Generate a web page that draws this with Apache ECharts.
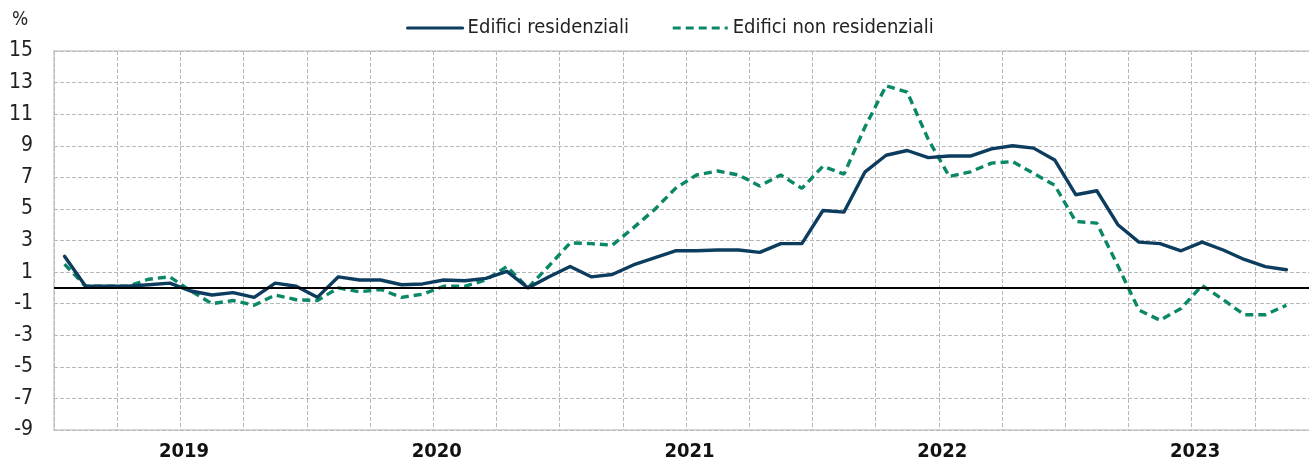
<!DOCTYPE html>
<html>
<head>
<meta charset="utf-8">
<script src="https://cdn.jsdelivr.net/npm/echarts@6/dist/echarts.min.js"></script>
<style>
html,body{margin:0;padding:0;background:#fff;overflow:hidden;width:1309px;height:465px;}
#c{width:1320px;height:465px;}
</style>
</head>
<body>
<div id="c"></div>
<script>
const months = [
 '2018-07','2018-08','2018-09','2018-10','2018-11','2018-12',
 '2019-01','2019-02','2019-03','2019-04','2019-05','2019-06','2019-07','2019-08','2019-09','2019-10','2019-11','2019-12',
 '2020-01','2020-02','2020-03','2020-04','2020-05','2020-06','2020-07','2020-08','2020-09','2020-10','2020-11','2020-12',
 '2021-01','2021-02','2021-03','2021-04','2021-05','2021-06','2021-07','2021-08','2021-09','2021-10','2021-11','2021-12',
 '2022-01','2022-02','2022-03','2022-04','2022-05','2022-06','2022-07','2022-08','2022-09','2022-10','2022-11','2022-12',
 '2023-01','2023-02','2023-03','2023-04','2023-05','2023-06'
];
const residenziali = [2.0,0.1,0.1,0.1,0.2,0.3,-0.2,-0.45,-0.3,-0.6,
 0.3,0.1,-0.6,0.7,0.5,0.5,0.2,0.25,0.5,0.45,
 0.6,1.05,0.0,0.7,1.35,0.7,0.85,1.45,1.9,2.35,
 2.35,2.4,2.4,2.25,2.8,2.8,4.9,4.8,7.35,8.4,
 8.7,8.25,8.35,8.35,8.8,9.0,8.85,8.1,5.9,6.15,
 4.0,2.9,2.8,2.35,2.9,2.4,1.8,1.35,1.15,null];
const nonResidenziali = [1.5,0.1,0.1,0.1,0.55,0.7,-0.2,-1.0,-0.8,-1.1,
 -0.45,-0.75,-0.8,0.0,-0.25,-0.1,-0.6,-0.4,0.1,0.1,
 0.5,1.35,0.0,1.4,2.85,2.8,2.7,3.8,4.95,6.3,
 7.15,7.4,7.15,6.45,7.15,6.3,7.7,7.2,10.2,12.8,
 12.4,9.4,7.05,7.35,7.9,8.0,7.25,6.5,4.2,4.1,
 1.4,-1.4,-2.05,-1.3,0.15,-0.75,-1.7,-1.7,-1.1,null];
const seriesNames = ['Edifici residenziali','Edifici non residenziali'];
const yMin = -9, yMax = 15, yStep = 2;

const FONT = "'Liberation Sans Narrow','Arial Narrow','DejaVu Sans Condensed',sans-serif";
const NAVY = '#0d3d5e', GREEN = '#0a8766';
const chart = echarts.init(document.getElementById('c'), null, {renderer:'canvas'});
chart.setOption({
  animation:false,
  backgroundColor:'#fff',
  graphic:[{type:'text', left:12, top:11, style:{text:'%', font:"19px "+FONT, fill:'#222'}}],
  legend:{
    top:13, left:401,
    itemWidth:55, itemHeight:14, itemGap:42,
    itemStyle:{opacity:0},
    lineStyle:{width:3.2},
    textStyle:{fontFamily:FONT, fontSize:20, color:'#222'},
    data:seriesNames
  },
  grid:{left:54, top:51, right:2, bottom:35, show:true, borderColor:'#d9d9d9', borderWidth:2, containLabel:false},
  xAxis:{
    type:'category', data:months, boundaryGap:true,
    axisLine:{show:false},
    axisTick:{show:false},
    axisLabel:{
      interval:(i,v)=>v.slice(5)==='01',
      formatter:v=>v.slice(0,4),
      fontFamily:FONT, fontSize:20, fontWeight:'bold', color:'#111',
      margin:12, padding:[0,14,0,0]
    },
    splitLine:{show:true, interval:(i)=>i%3===0, lineStyle:{color:'#b8b8b8', type:[4,2], width:1}}
  },
  yAxis:{
    type:'value', min:yMin, max:yMax, interval:yStep,
    axisLine:{show:false}, axisTick:{show:false},
    axisLabel:{fontFamily:FONT, fontSize:21, color:'#222', margin:21},
    splitLine:{show:true, lineStyle:{color:'#b8b8b8', type:[4,2], width:1}}
  },
  series:[
    {name:seriesNames[0], type:'line', data:residenziali, symbol:'none', z:4,
     lineStyle:{color:NAVY, width:3.4, cap:'round', join:'round'}, itemStyle:{color:NAVY},
     markLine:{silent:true, symbol:'none', label:{show:false},
       lineStyle:{color:'#000', width:2, type:'solid'}, data:[{yAxis:0}]}},
    {name:seriesNames[1], type:'line', data:nonResidenziali, symbol:'none', z:3,
     lineStyle:{color:GREEN, width:3.4, type:[8,5]}, itemStyle:{color:GREEN}}
  ]
});
</script>
</body>
</html>
